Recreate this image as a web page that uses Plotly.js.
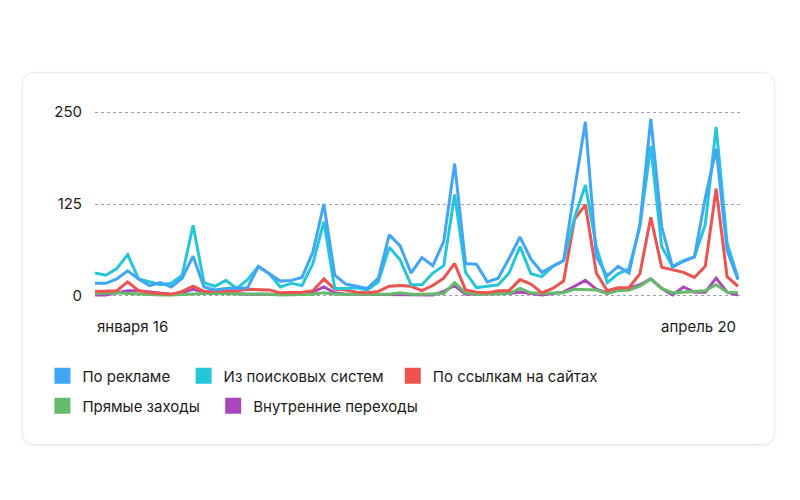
<!DOCTYPE html>
<html>
<head>
<meta charset="utf-8">
<script src="https://cdn.plot.ly/plotly-3.0.1.min.js"></script>
<style>
  html, body { margin: 0; padding: 0; background: #ffffff; }
  #wrap { position: relative; width: 800px; height: 500px; }
  #card { position: absolute; left: 22px; top: 72px; width: 751px; height: 371px;
          border: 1px solid #e6ebf2; border-radius: 12px; background: #ffffff;
          box-shadow: 0 1px 3px rgba(200,210,225,0.4); }
  #chart { position: absolute; left: 0; top: 0; width: 800px; height: 500px; }
</style>
</head>
<body>
<div id="wrap">
  <div id="card"></div>
  <div id="chart"></div>
</div>
<script>
// ---- data ----
var seriesNames = ['По рекламе', 'Из поисковых систем', 'По ссылкам на сайтах', 'Прямые заходы', 'Внутренние переходы'];
var seriesColors = ['#42a5f5', '#26c6da', '#ef5350', '#66bb6a', '#ab47bc'];
var xTickLabels = ['января 16', 'апрель 20'];
var yTickValues = [0, 125, 250];

var poReklame = [17, 17, 23, 34, 23, 14, 18, 12, 24, 54, 12, 8, 10, 11, 11, 40, 30, 20, 21, 25,
                 60, 125, 28, 16, 13, 10, 24, 83, 68, 31, 52, 41, 74, 180, 44, 43, 19, 24, 51, 80,
                 50, 32, 40, 48, 144, 237, 53, 27, 40, 31, 97, 241, 94, 39, 47, 53, 133, 200, 62, 22];
var izPoiskovyh = [31, 28, 37, 56, 23, 19, 15, 17, 28, 96, 18, 13, 21, 10, 22, 40, 30, 12, 17, 14,
                   44, 101, 10, 10, 11, 8, 19, 66, 49, 15, 15, 31, 41, 138, 32, 11, 13, 15, 31, 67,
                   30, 26, 40, 48, 106, 151, 67, 18, 30, 37, 94, 204, 67, 40, 48, 53, 97, 230, 72, 24];
var poSsylkam = [6, 6, 7, 19, 7, 4, 3, 2, 6, 13, 6, 6, 7, 7, 9, 9, 8, 4, 4, 5,
                 7, 23, 9, 8, 5, 4, 6, 13, 14, 13, 7, 14, 24, 44, 8, 5, 4, 7, 7, 22,
                 16, 4, 10, 20, 104, 124, 31, 7, 11, 11, 30, 107, 39, 35, 32, 25, 40, 146, 26, 13];
var pryamye = [3, 4, 4, 3, 2, 1, 1, 1, 2, 3, 3, 3, 3, 2, 2, 2, 2, 1, 1, 1,
               2, 4, 2, 2, 2, 2, 2, 2, 4, 2, 2, 2, 3, 18, 4, 2, 2, 2, 3, 10,
               4, 3, 3, 4, 9, 8, 8, 3, 7, 8, 13, 23, 10, 4, 5, 5, 7, 15, 5, 4];
var vnutrennie = [1, 1, 4, 7, 7, 5, 4, 2, 4, 9, 5, 4, 4, 2, 2, 2, 2, 2, 2, 2,
                  5, 12, 4, 2, 2, 2, 2, 2, 2, 2, 2, 1, 6, 14, 2, 2, 3, 3, 3, 5,
                  3, 1, 3, 5, 13, 21, 9, 4, 8, 10, 15, 23, 10, 1, 12, 5, 5, 24, 5, 1];

var allSeries = [poReklame, izPoiskovyh, poSsylkam, pryamye, vnutrennie];
var xIdx = poReklame.map(function (_, i) { return i; });

var FONT = 'Inter, "Noto Sans", sans-serif';
// legend layout: which legend row each series goes in, and trailing spacing
var legendRow = ['legend', 'legend', 'legend', 'legend2', 'legend2'];
var legendPad = [2, 1, 0, 2, 0];

var traces = [];
// lines
[4, 3, 2, 1, 0].forEach(function (k) {
  traces.push({
    type: 'scatter', mode: 'lines', x: xIdx, y: allSeries[k],
    line: { color: seriesColors[k], width: 3 },
    name: seriesNames[k], legendgroup: 'g' + k, showlegend: false, hoverinfo: 'skip'
  });
});
// legend entries (square swatches)
[0, 1, 2, 3, 4].forEach(function (k) {
  traces.push({
    type: 'scatter', mode: 'markers', x: [null], y: [null],
    marker: { color: seriesColors[k], symbol: 'square', size: 16 },
    name: seriesNames[k] + '\u00a0'.repeat(legendPad[k]),
    legendgroup: 'g' + k, showlegend: true, legend: legendRow[k]
  });
});

var legendBase = {
  orientation: 'h', xref: 'container', yref: 'container',
  x: 0.053, xanchor: 'left', yanchor: 'top',
  font: { family: FONT, size: 15, color: '#1c1c1c' },
  itemsizing: 'trace', bgcolor: 'rgba(0,0,0,0)'
};
function legendAt(y) { var o = JSON.parse(JSON.stringify(legendBase)); o.y = y; return o; }

var lastIdx = xIdx.length - 1;
var layout = {
  width: 800, height: 500,
  margin: { l: 95, r: 58, t: 110, b: 202 },
  paper_bgcolor: 'rgba(0,0,0,0)', plot_bgcolor: 'rgba(0,0,0,0)',
  font: { family: FONT, size: 15, color: '#1c1c1c' },
  showlegend: true,
  legend: legendAt(0.281),
  legend2: legendAt(0.221),
  xaxis: {
    range: [0, lastIdx + 0.37], showgrid: false, zeroline: false,
    showticklabels: false, ticks: '', showline: false, fixedrange: true
  },
  yaxis: {
    range: [-3, 253], tickvals: yTickValues, ticktext: yTickValues.map(String),
    showgrid: true, gridcolor: '#9d9db3', griddash: 'dot', gridwidth: 1,
    zeroline: false, showline: false, ticks: '', ticklabelstandoff: 12,
    tickfont: { family: FONT, size: 15, color: '#1c1c1c' }, fixedrange: true
  },
  annotations: [
    { xref: 'x', yref: 'paper', x: 0, y: 0, xanchor: 'left', yanchor: 'middle', yshift: -28,
      text: xTickLabels[0], showarrow: false, font: { family: FONT, size: 15, color: '#1c1c1c' } },
    { xref: 'x', yref: 'paper', x: lastIdx, y: 0, xanchor: 'right', yanchor: 'middle', yshift: -28,
      text: xTickLabels[1], showarrow: false, font: { family: FONT, size: 15, color: '#1c1c1c' } }
  ]
};

Plotly.newPlot('chart', traces, layout, { displayModeBar: false, staticPlot: true });
</script>
</body>
</html>
